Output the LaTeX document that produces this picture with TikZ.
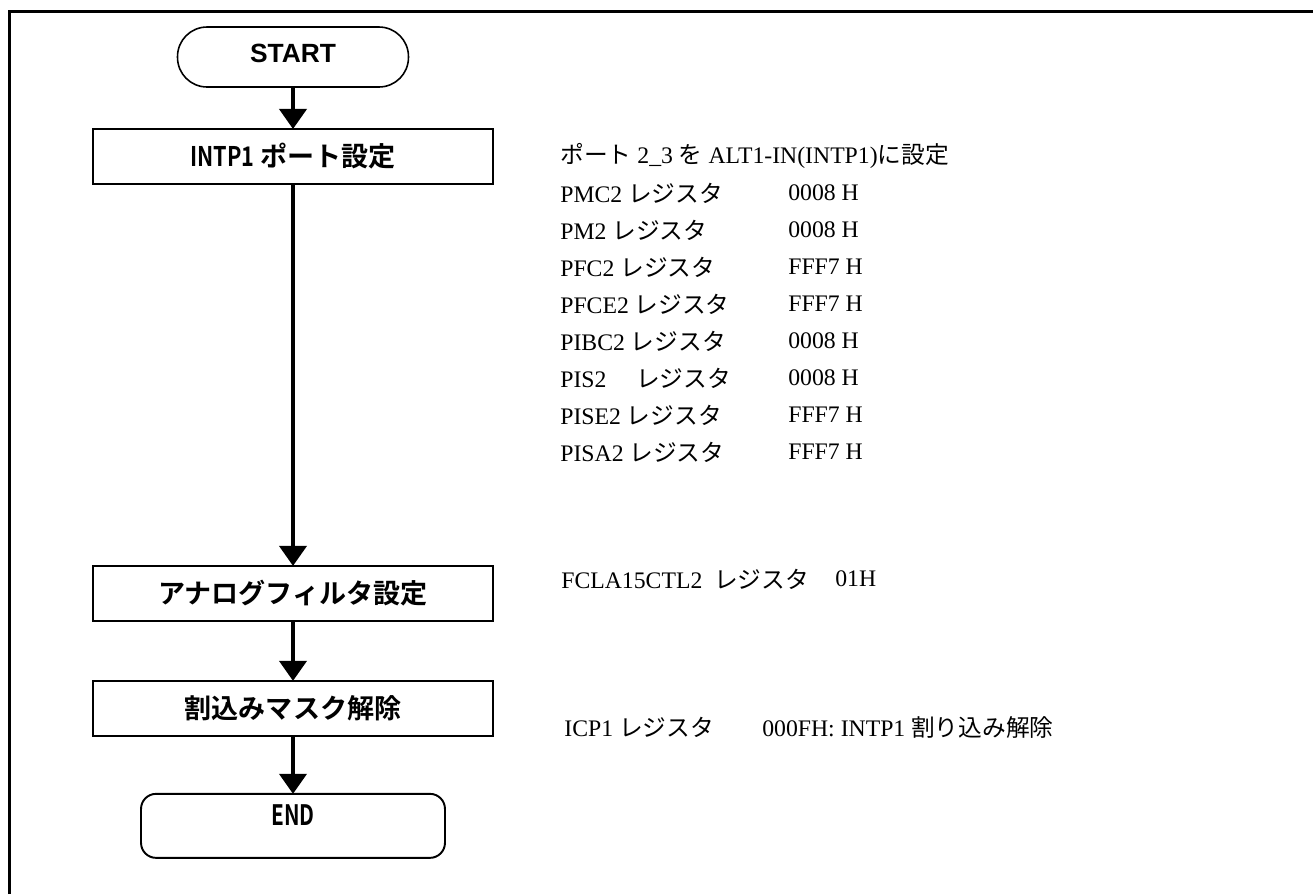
\documentclass[tikz,border=0pt]{standalone}
\usepackage{fontspec}
\setmainfont{Liberation Serif}
\newfontfamily\jpfont{Noto Sans CJK JP}[BoldFont={Noto Sans CJK JP Bold}]
\newfontfamily\startfont{Liberation Sans}
\usepackage{graphicx}
\usetikzlibrary{positioning,arrows.meta}

\begin{document}
\begin{tikzpicture}[x=0.02cm,y=-0.02cm,
startnode/.style={rectangle, draw, line width=0.9pt, rounded corners=0.59cm, minimum width=4.62cm, minimum height=1.2cm, outer sep=0pt, text depth=0.15cm, font=\startfont\bfseries\fontsize{15pt}{18pt}\selectfont},
processnode/.style={rectangle, draw, line width=1.1pt, minimum width=8cm, minimum height=1.1cm, outer sep=0pt, font=\jpfont\bfseries\fontsize{15.4pt}{18pt}\selectfont},
finishnode/.style={rectangle, draw, line width=1.1pt, rounded corners=0.3cm, minimum width=6.08cm, minimum height=1.28cm, outer sep=0pt, text depth=0.44cm, font=\jpfont\bfseries\fontsize{16pt}{18pt}\selectfont},
notetext/.style={anchor=west, inner sep=0pt, font=\fontsize{13.5pt}{16pt}\selectfont},
flowline/.style={line width=2.2pt, -{Triangle[width=0.54cm,length=0.4cm]}},
]
\useasboundingbox (0,0) rectangle (1313,894);

%Frame
\draw[line width=1.7pt] (9.5,894) |- (1313,11.5);

%Nodes
\node[startnode]   (start)                          at (293,57) {START};
\node[processnode] (portset)   [below=0.84cm of start]     {\scalebox{0.8}[1]{INTP1} ポート設定};
\node[processnode] (filterset) [below=7.64cm of portset]   {アナログフィルタ設定};
\node[processnode] (maskclear) [below=1.2cm of filterset]  {割込みマスク解除};
\node[finishnode]  (finish)    [below=1.16cm of maskclear] {\scalebox{0.74}[1]{END}};

%Notes
\node[notetext] (portnote) at (560,156) {{\jpfont ポート} 2\_3 {\jpfont を} ALT1-IN(INTP1){\jpfont に設定}};
\node[notetext] (pmc)  at (560,193) {PMC2 {\jpfont レジスタ}};
\node[notetext] (pm)   at (560,230) {PM2 {\jpfont レジスタ}};
\node[notetext] (pfc)  at (560,267) {PFC2 {\jpfont レジスタ}};
\node[notetext] (pfce) at (560,304) {PFCE2 {\jpfont レジスタ}};
\node[notetext] (pibc) at (560,341) {PIBC2 {\jpfont レジスタ}};
\node[notetext] (pis)  at (560,378) {PIS2 {\jpfont 　レジスタ}};
\node[notetext] (pise) at (560,415) {PISE2 {\jpfont レジスタ}};
\node[notetext] (pisa) at (560,452) {PISA2 {\jpfont レジスタ}};
\node[notetext] (pmcval)  at (788,193) {0008 H};
\node[notetext] (pmval)   at (788,230) {0008 H};
\node[notetext] (pfcval)  at (788,267) {FFF7 H};
\node[notetext] (pfceval) at (788,304) {FFF7 H};
\node[notetext] (pibcval) at (788,341) {0008 H};
\node[notetext] (pisval)  at (788,378) {0008 H};
\node[notetext] (piseval) at (788,415) {FFF7 H};
\node[notetext] (pisaval) at (788,452) {FFF7 H};
\node[notetext] (fcla)    at (561,579) {FCLA15CTL2\ \ {\jpfont レジスタ}};
\node[notetext] (fclaval) at (835,579) {01H};
\node[notetext] (icp)     at (564,727) {ICP1 {\jpfont レジスタ}};
\node[notetext] (icpval)  at (762,727) {000FH: INTP1 {\jpfont 割り込み解除}};

%Lines
\draw[flowline] (start) -- (portset);
\draw[flowline] (portset) -- (filterset);
\draw[flowline] (filterset) -- (maskclear);
\draw[flowline] (maskclear) -- (finish);

\end{tikzpicture}
\end{document}
